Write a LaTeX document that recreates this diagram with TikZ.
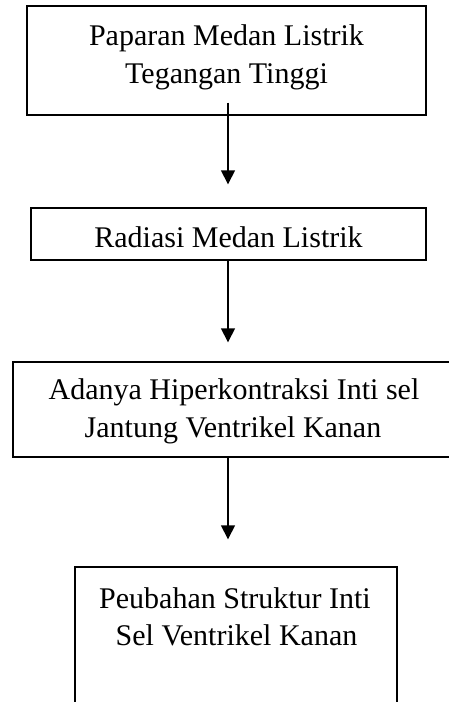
\documentclass[tikz,border=0pt]{standalone}
\usepackage{fontspec}
\setmainfont{Liberation Serif}
\usetikzlibrary{arrows.meta,calc}
\tikzset{
  box/.style={draw=black, line width=1.4pt, rectangle, inner sep=0pt, fill=none},
  txt/.style={anchor=base, inner sep=0pt, font=\fontsize{30}{38}\selectfont},
  arr/.style={draw=black, line width=1.5pt, -{Triangle[width=14pt,length=14pt]}}
}
\begin{document}
\begin{tikzpicture}[x=1pt,y=-1pt]
\useasboundingbox[fill=white] (0,0) rectangle (449,702);
% boxes
\node[box, minimum width=399pt, minimum height=109pt] (b1) at (226.5,60.5) {};
\node[box, minimum width=395pt, minimum height=52pt] (b2) at (228.5,234) {};
\node[box, minimum width=467pt, minimum height=95pt] (b3) at (246.5,409.5) {};
\node[box, minimum width=322pt, minimum height=153pt] (b4) at (236,643.5) {};
% texts
\node[txt] (t1a) at (226.5,45) {Paparan Medan Listrik};
\node[txt] (t1b) at (226.5,83) {Tegangan Tinggi};
\node[txt] (t2) at (228.5,247) {Radiasi Medan Listrik};
\node[txt] (t3a) at (234,399) {Adanya Hiperkontraksi Inti sel};
\node[txt] (t3b) at (233,437) {Jantung Ventrikel Kanan};
\node[txt] (t4a) at (235,608) {Peubahan Struktur Inti};
\node[txt] (t4b) at (236.5,645) {Sel Ventrikel Kanan};
% connectors
\coordinate (axis) at (228,0);
\draw[arr] ($(b1.south -| axis)+(0,-13)$) -- ($(b2.north -| axis)+(0,-23)$);
\draw[arr] (b2.south -| axis) -- ($(b3.north -| axis)+(0,-19)$);
\draw[arr] (b3.south -| axis) -- ($(b4.north -| axis)+(0,-27)$);
\end{tikzpicture}
\end{document}
